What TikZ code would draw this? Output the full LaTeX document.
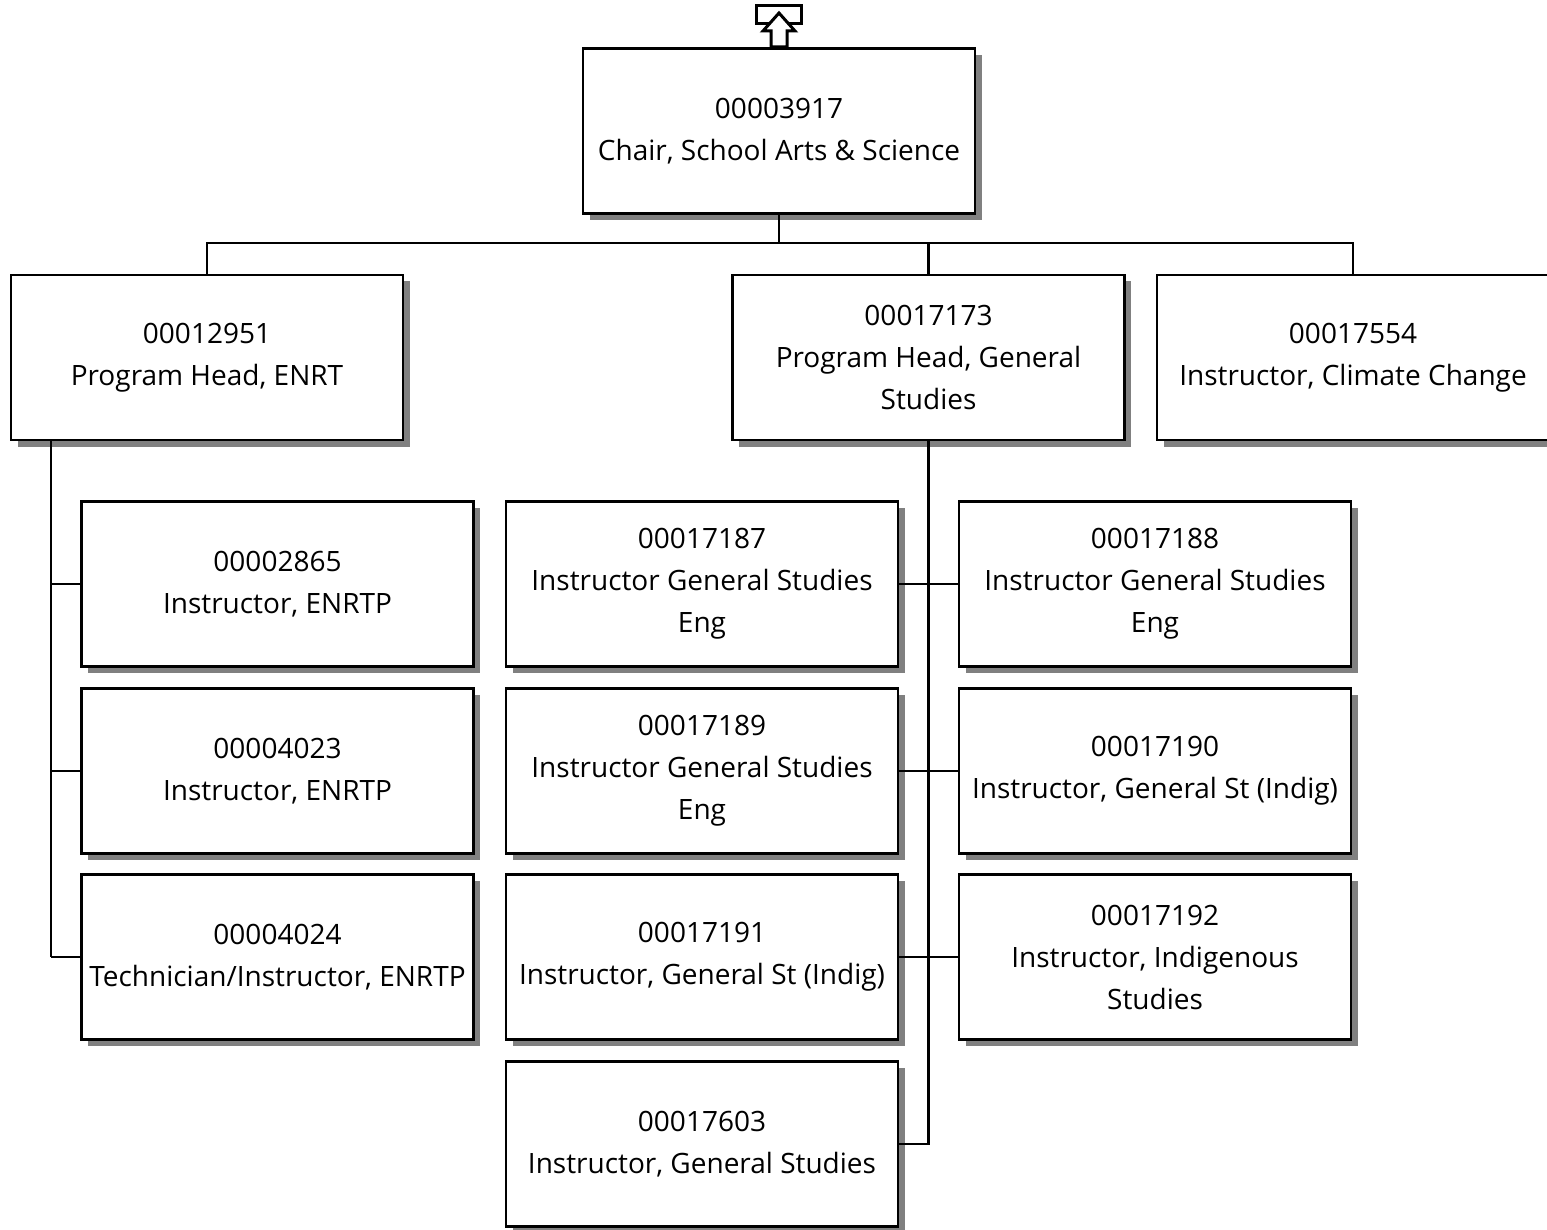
\documentclass[tikz,border=0pt]{standalone}
\usepackage{fontspec}
\setmainfont{Open Sans}
\usetikzlibrary{shadows}
\begin{document}
\begin{tikzpicture}[x=1pt,y=-1pt,
  orgbox/.style={draw=black, line width=2.7pt, fill=white,
    minimum width=392pt, minimum height=165pt, inner sep=0pt,
    align=center, font=\fontsize{28}{42}\selectfont,
    drop shadow={shadow xshift=6.5pt, shadow yshift=-6.5pt, fill=black!50, opacity=1}},
  link/.style={draw=black, line width=2.5pt}]
\useasboundingbox (0,0) rectangle (1547,1230);
\fill[white] (0,0) rectangle (1547,1230);
% top icon
\draw[line width=3pt, fill=white] (756,6) rectangle (801,24);
\draw[line width=3pt, fill=white, line join=miter] (779,13) -- (795,31) -- (787,31) -- (787,47) -- (771,47) -- (771,31) -- (763,31) -- cycle;
% nodes
\node[orgbox] (chair) at (779,131) {00003917\\Chair, School Arts \& Science};
\node[orgbox] (enrt) at (207,357.5) {00012951\\Program Head, ENRT};
\node[orgbox] (gen) at (928.5,357.5) {00017173\\Program Head, General\\Studies};
\node[orgbox] (clim) at (1353,357.5) {00017554\\Instructor, Climate Change};
\node[orgbox] (n2865) at (277.5,584) {00002865\\Instructor, ENRTP};
\node[orgbox] (n4023) at (277.5,771) {00004023\\Instructor, ENRTP};
\node[orgbox] (n4024) at (277.5,957) {00004024\\Technician/Instructor, ENRTP};
\node[orgbox] (n7187) at (702,584) {00017187\\Instructor General Studies\\Eng};
\node[orgbox] (n7188) at (1155,584) {00017188\\Instructor General Studies\\Eng};
\node[orgbox] (n7189) at (702,771) {00017189\\Instructor General Studies\\Eng};
\node[orgbox] (n7190) at (1155,771) {00017190\\Instructor, General St (Indig)};
\node[orgbox] (n7191) at (702,957) {00017191\\Instructor, General St (Indig)};
\node[orgbox] (n7192) at (1155,957) {00017192\\Instructor, Indigenous\\Studies};
\node[orgbox] (n7603) at (702,1144) {00017603\\Instructor, General Studies};
% connectors
\coordinate (bus) at (779,243);
\draw[link] (chair.south) -- (bus);
\draw[link] (enrt.north) |- (bus) -| (clim.north);
\draw[link] (bus) -| (gen.north);
\coordinate (espine) at (51,957);
\draw[link] (enrt.south -| espine) -- (espine);
\draw[link] (n2865.west) -- (n2865.west -| espine);
\draw[link] (n4023.west) -- (n4023.west -| espine);
\draw[link] (n4024.west) -- (espine);
\coordinate (gspine) at (928.5,1144);
\draw[link] (gen.south) -- (gspine) -- (n7603.east);
\draw[link] (n7187.east) -- (n7188.west);
\draw[link] (n7189.east) -- (n7190.west);
\draw[link] (n7191.east) -- (n7192.west);
\end{tikzpicture}
\end{document}
